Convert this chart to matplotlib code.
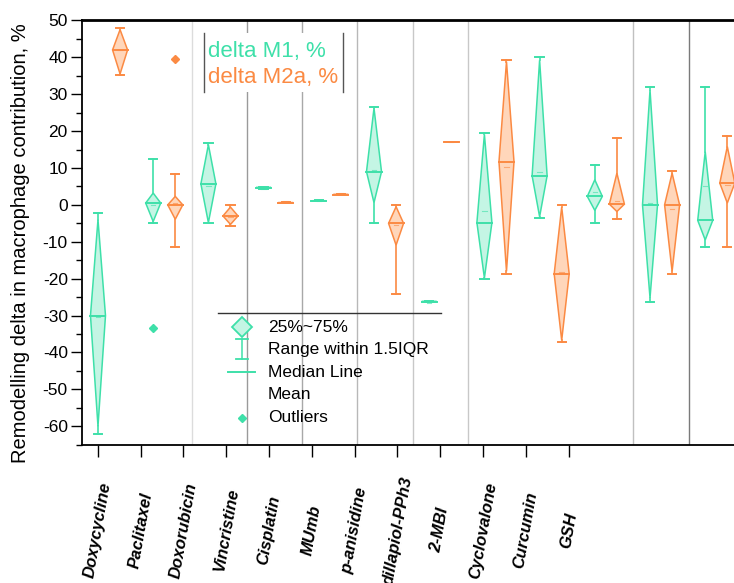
import matplotlib
matplotlib.use("Agg")
import matplotlib.pyplot as plt
from matplotlib.patches import Polygon, Rectangle
from matplotlib.lines import Line2D
from matplotlib.ticker import MultipleLocator
import numpy as np

plt.rcParams['font.family'] = ['Liberation Sans', 'DejaVu Sans']
plt.rcParams['axes.unicode_minus'] = False

categories = ['Doxycycline', 'Paclitaxel', 'Doxorubicin', 'Vincristine', 'Cisplatin', 'MUmb',
              'p-anisidine', 'dillapiol-PPh3', '2-MBI', 'Cyclovalone', 'Curcumin', 'GSH']

# delta M1 box stats
m1_low = [-62.0, -4.9, -5.0, 4.4, 1.0, -4.8, -26.4, -20.1, -3.5, -4.9, -26.2, -11.5]
m1_q1 = [-60.0, -4.5, -4.8, 4.5, 1.0, 0.6, -26.3, -19.8, -3.2, -1.5, -25.2, -9.5]
m1_median = [-30.0, 0.5, 5.7, 4.7, 1.1, 9.0, -26.2, -4.8, 7.9, 2.3, 0.0, -4.2]
m1_q3 = [-4.0, 3.2, 16.3, 4.8, 1.2, 26.2, -26.1, 19.1, 39.2, 6.8, 31.1, 14.4]
m1_high = [-2.2, 12.4, 16.7, 4.9, 1.2, 26.6, -26.0, 19.5, 40.2, 10.8, 32.0, 32.0]
m1_mean = [-30.5, 0.0, 5.2, 4.3, 1.1, 9.5, -26.7, -1.7, 9.0, 3.4, 0.4, 5.0]
m1_outlier_cat = ['Paclitaxel']
m1_outlier_val = [-33.4]

# delta M2a box stats
m2_low = [35.2, -11.4, -5.6, 0.4, 2.7, -24.1, 17.0, -18.7, -37.3, -3.9, -18.7, -11.4]
m2_q1 = [35.5, -3.9, -5.3, 0.5, 2.7, -10.9, 17.0, -18.0, -36.7, -1.8, -18.0, 0.5]
m2_median = [42.0, 0.0, -3.0, 0.6, 2.8, -5.0, 17.0, 11.7, -18.7, 0.2, 0.0, 5.9]
m2_q3 = [47.5, 2.3, -0.6, 0.7, 2.9, -0.5, 17.0, 38.8, -0.6, 8.6, 8.6, 15.8]
m2_high = [47.9, 8.4, -0.1, 0.8, 2.9, -0.1, 17.0, 39.3, -0.1, 18.2, 9.3, 18.8]
m2_mean = [42.0, 0.5, -3.3, 1.1, 3.3, -5.5, 17.0, 10.3, -18.2, 1.0, -1.0, 5.5]
m2_outlier_cat = ['Paclitaxel']
m2_outlier_val = [39.5]

GREEN = "#3ee0a9"
GREEN_FILL = "#c4f5e4"
ORANGE = "#fb8a43"
ORANGE_FILL = "#ffd6ba"

W, H = 734, 583

def fx(px):
    return px / W

def fy(py):
    return 1 - py / H

def drawBox(ax, x, lo, q1, med, q3, hi, mean, colour, fill):
    hw, cw = 0.136, 0.075
    ax.add_patch(Polygon([(x, q1), (x + hw, med), (x, q3), (x - hw, med)], closed=True,
                         facecolor=fill, edgecolor=colour, lw=1.1, zorder=3))
    ax.plot([x, x], [lo, q1], color=colour, lw=1.2, zorder=3)
    ax.plot([x, x], [q3, hi], color=colour, lw=1.2, zorder=3)
    ax.plot([x - cw, x + cw], [lo, lo], color=colour, lw=1.4, zorder=3)
    ax.plot([x - cw, x + cw], [hi, hi], color=colour, lw=1.4, zorder=3)
    ax.plot([x - hw, x + hw], [med, med], color=colour, lw=1.4, zorder=4)
    ax.plot([x - 0.04, x + 0.04], [mean, mean], color=colour, lw=0.8, alpha=0.6, zorder=4)


fig = plt.figure(figsize=(W / 100, H / 100), dpi=100)
ax = fig.add_axes([fx(81.7), fy(444.7), (740 - 81.7) / W, (444.7 - 20.4) / H])

x = np.arange(len(categories))
off = 0.2
for i in range(len(categories)):
    drawBox(ax, x[i] - off, m1_low[i], m1_q1[i], m1_median[i], m1_q3[i], m1_high[i], m1_mean[i], GREEN, GREEN_FILL)
    drawBox(ax, x[i] + off, m2_low[i], m2_q1[i], m2_median[i], m2_q3[i], m2_high[i], m2_mean[i], ORANGE, ORANGE_FILL)

for cat, val in zip(m1_outlier_cat, m1_outlier_val):
    ax.plot(categories.index(cat) - off, val, marker='D', ms=4, color=GREEN, zorder=4)
for cat, val in zip(m2_outlier_cat, m2_outlier_val):
    ax.plot(categories.index(cat) + off, val, marker='D', ms=4, color=ORANGE, zorder=4)

# group separators
sep_pos = [1.5, 2.5, 3.5, 4.5, 5.5, 6.5, 9.5, 10.5]
sep_col = ["#dcdcdc", "#9a9a9a", "#a8a8a8", "#b8b8b8", "#c8c8c8", "#c8c8c8", "#c0c0c0", "#7a7a7a"]
for p, c in zip(sep_pos, sep_col):
    ax.axvline(p, color=c, lw=1, zorder=1)

ax.set_xlim(-0.495, 11.43)
ax.set_ylim(-65, 50)

ax.yaxis.set_major_locator(MultipleLocator(10))
ax.yaxis.set_minor_locator(MultipleLocator(5))
ax.tick_params(axis='y', which='major', direction='out', length=8, width=1, labelsize=12.5, pad=2)
ax.tick_params(axis='y', which='minor', direction='out', length=4, width=1)

# tick marks of the original are spaced tighter than the groups
tick_pos = -0.205 + 0.7754 * np.arange(len(categories))
ax.set_xticks(tick_pos)
ax.set_xticklabels(categories, rotation=80, fontstyle='italic', fontweight='bold', fontsize=12,
                   ha='center', va='center')
ax.tick_params(axis='x', direction='out', length=8.5, width=1, pad=53)

ax.spines['right'].set_visible(False)
ax.spines['top'].set_linewidth(2)
ax.spines['left'].set_linewidth(1.3)
ax.spines['bottom'].set_linewidth(1.3)

fig.text(fx(21), fy(243), "Remodelling delta in macrophage contribution, %", rotation=90,
         ha='center', va='center', fontsize=14.5)

# series legend (top)
fig.add_artist(Rectangle((fx(204), fy(92)), fx(343) - fx(204), fy(33) - fy(92),
                         facecolor='white', edgecolor='none', zorder=2))
for px in (204, 343):
    fig.add_artist(Line2D([fx(px), fx(px)], [fy(33), fy(92)], color='#555555', lw=1, zorder=3))
fig.text(fx(208), fy(51), "delta M1, %", color=GREEN, fontsize=16, va='center', ha='left', zorder=4)
fig.text(fx(208), fy(78), "delta M2a, %", color=ORANGE, fontsize=16, va='center', ha='left', zorder=4)

# box legend (bottom)
fig.add_artist(Line2D([fx(218), fx(441)], [fy(313), fy(313)], color='#333333', lw=1, zorder=3))
mx = 242
fig.add_artist(Line2D([fx(mx)], [fy(327)], marker='D', ms=10, mfc=GREEN_FILL, mec=GREEN, mew=1.3, zorder=3))
fig.add_artist(Line2D([fx(mx), fx(mx)], [fy(339), fy(359)], color=GREEN, lw=1.1, zorder=3))
for py in (339, 359):
    fig.add_artist(Line2D([fx(mx - 6), fx(mx + 6)], [fy(py), fy(py)], color=GREEN, lw=1.3, zorder=3))
fig.add_artist(Line2D([fx(228), fx(255)], [fy(372), fy(372)], color=GREEN, lw=1.4, zorder=3))
fig.add_artist(Line2D([fx(mx)], [fy(418)], marker='D', ms=4, color=GREEN, zorder=3))
legend_labels = ["25%~75%", "Range within 1.5IQR", "Median Line", "Mean", "Outliers"]
for k, lab in enumerate(legend_labels):
    fig.text(fx(268), fy(327 + 22.6 * k), lab, fontsize=12.5, va='center', ha='left', zorder=4)

fig.savefig("out.png", dpi=100)
